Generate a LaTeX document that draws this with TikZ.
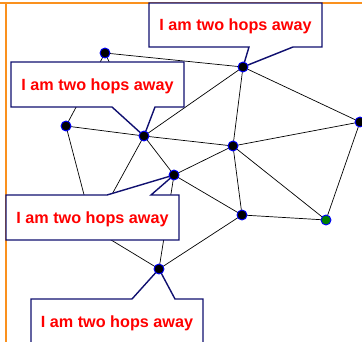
\documentclass[tikz,border=0pt]{standalone}
\usepackage{fontspec}
\setmainfont{Liberation Sans}
\definecolor{navyc}{RGB}{16,16,112}
\definecolor{framec}{RGB}{250,145,30}
\definecolor{nodegreen}{RGB}{0,128,0}
\pgfdeclarelayer{edgelayer}
\pgfdeclarelayer{calloutlayer}
\pgfsetlayers{edgelayer,calloutlayer,main}
\tikzset{
  dot/.style={circle,fill=black,draw=blue,line width=0.9pt,minimum size=10pt,inner sep=0pt},
  greendot/.style={dot,fill=nodegreen},
  edge/.style={black,line width=0.7pt},
  callout/.style={draw=navyc,fill=white,line width=1.4pt,line join=miter},
  calltext/.style={text=red,font=\fontsize{16.2}{19}\selectfont\bfseries,inner sep=0pt},
  frameline/.style={framec,line width=1.6pt}
}
\begin{document}
\begin{tikzpicture}[x=1pt,y=-1pt]
\useasboundingbox (0,0) rectangle (362,342);
\clip (0,0) rectangle (362,342);
% nodes
\node[dot] (A) at (105,53) {};
\node[dot] (B) at (243,67) {};
\node[dot] (C) at (66,126) {};
\node[dot] (D) at (144,136) {};
\node[dot] (E) at (360,122) {};
\node[dot] (F) at (233,146) {};
\node[dot] (G) at (174,175) {};
\node[dot] (H) at (242,215) {};
\node[greendot] (I) at (326,220) {};
\node[dot] (J) at (159,269) {};
\coordinate (X) at (93,229);
\begin{pgfonlayer}{edgelayer}
  \fill[white] (0,0) rectangle (362,342);
  \coordinate (fl) at (0,3);
  \coordinate (fr) at (362,3);
  \coordinate (ft) at (6,3);
  \coordinate (fb) at (6,342);
  \draw[frameline] (fl) -- (fr);
  \draw[frameline] (ft) -- (fb);
  \draw[edge] (A.center) -- (B.center);
  \draw[edge] (A.center) -- (C.center);
  \draw[edge] (A.center) -- (D.center);
  \draw[edge] (C.center) -- (D.center);
  \draw[edge] (C.center) -- (X);
  \draw[edge] (D.center) -- (X);
  \draw[edge] (X) -- (J.center);
  \draw[edge] (D.center) -- (B.center);
  \draw[edge] (D.center) -- (F.center);
  \draw[edge] (D.center) -- (G.center);
  \draw[edge] (B.center) -- (F.center);
  \draw[edge] (B.center) -- (E.center);
  \draw[edge] (F.center) -- (E.center);
  \draw[edge] (E.center) -- (I.center);
  \draw[edge] (F.center) -- (G.center);
  \draw[edge] (F.center) -- (H.center);
  \draw[edge] (F.center) -- (I.center);
  \draw[edge] (G.center) -- (H.center);
  \draw[edge] (H.center) -- (I.center);
  \draw[edge] (G.center) -- (J.center);
  \draw[edge] (J.center) -- (H.center);
\end{pgfonlayer}
\begin{pgfonlayer}{calloutlayer}
  % callout 1 (to B)
  \draw[callout] (149,3) -- (322,3) -- (322,47) -- (293,47) -- (B.center) -- (249,47) -- (149,47) -- cycle;
  \node[calltext] (t1) at (235.5,26) {I am two hops away};
  % callout 2 (to D)
  \draw[callout] (11,62) -- (184,62) -- (184,107) -- (155,107) -- (D.center) -- (112,107) -- (11,107) -- cycle;
  \node[calltext] (t2) at (97.5,86) {I am two hops away};
  % callout 3 (to G)
  \draw[callout] (6,195) -- (107,195) -- (G.center) -- (151,195) -- (179,195) -- (179,240) -- (6,240) -- cycle;
  \node[calltext] (t3) at (92.5,219) {I am two hops away};
  % callout 4 (to J)
  \draw[callout] (31,299) -- (132,299) -- (J.center) -- (175,299) -- (203,299) -- (203,350) -- (31,350) -- cycle;
  \node[calltext] (t4) at (117,323) {I am two hops away};
\end{pgfonlayer}
\end{tikzpicture}
\end{document}
